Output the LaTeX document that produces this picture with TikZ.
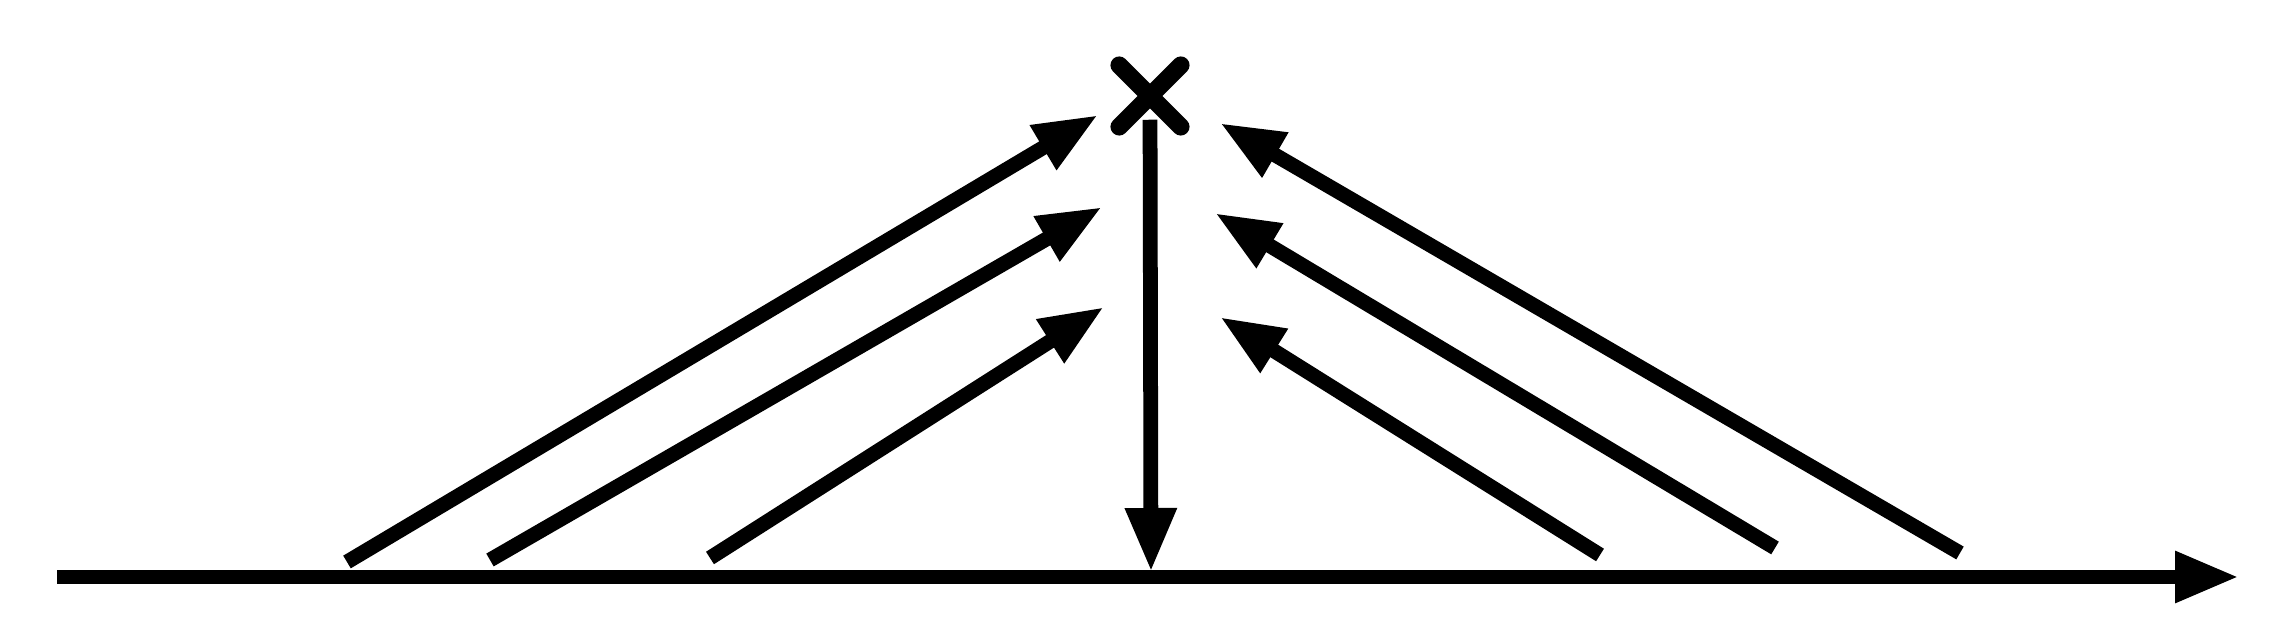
\documentclass[tikz,border=0pt]{standalone}
\usepackage{tikz}
\usetikzlibrary{arrows.meta, shapes.misc}

\begin{document}
\begin{tikzpicture}[ray/.style={-{Triangle[length=6.4mm,width=4.8mm]}, line width=4.2pt, black}]
			\useasboundingbox (0,0) rectangle (22.91,6.44);
			\node[shape=cross out,draw=black,line width=5pt,line cap=round,minimum size=4.4mm,inner sep=0pt] (X) at (11.50,5.48) {};% source
			\coordinate (F) at (11.51,0.72);% foot
			\coordinate (O) at (0.57,0.67);
			\coordinate (E) at (22.39,0.67);
			
			\coordinate (L1) at (3.47,0.82);
			\coordinate (L2) at (4.90,0.84);
			\coordinate (L3) at (7.10,0.86);
			\coordinate (P1) at (10.98,5.29);
			\coordinate (P2) at (11.02,4.37);
			\coordinate (P3) at (11.04,3.37);
			
			\coordinate (R1) at (19.60,0.91);
			\coordinate (R2) at (17.75,0.96);
			\coordinate (R3) at (16.00,0.89);
			\coordinate (Q1) at (12.20,5.21);
			\coordinate (Q2) at (12.15,4.31);
			\coordinate (Q3) at (12.20,3.27);
			
			\path [ray] (O) edge (E);
			\path [ray, shorten <=-2pt] (X) edge (F);
			\path [ray] (L1) edge (P1);
			\path [ray] (L2) edge (P2);
			\path [ray] (L3) edge (P3);
			\path [ray] (R1) edge (Q1);
			\path [ray] (R2) edge (Q2);
			\path [ray] (R3) edge (Q3);
		\end{tikzpicture}
\end{document}
